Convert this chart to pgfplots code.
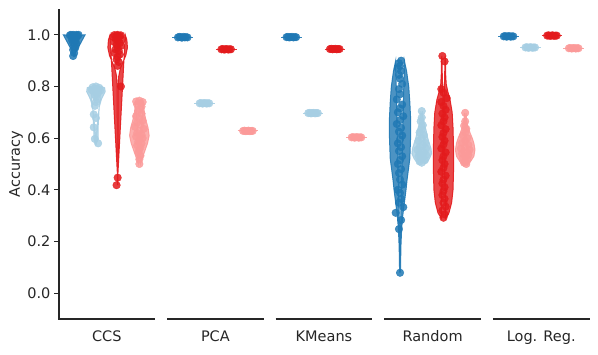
\documentclass[border=0pt]{standalone}
\usepackage{fontspec}
\setmainfont{DejaVu Sans}
\usepackage{pgfplots}
\pgfplotsset{compat=1.18}
\usepgfplotslibrary{fillbetween}

\definecolor{cdb}{HTML}{1F78B4}
\definecolor{clb}{HTML}{A6CEE3}
\definecolor{crd}{HTML}{E31A1C}
\definecolor{cpk}{HTML}{FB9A99}
\definecolor{txt}{HTML}{262626}

% violin outline: #1 centre, #2 colour, #3 path name, #4 rows "y w" (half width)
\newcommand{\violin}[4]{%
  \addplot[draw=none, name path=#3r] table[x expr=#1+\thisrow{w}, y=y, row sep=\\] {y w\\ #4};
  \addplot[draw=none, name path=#3l] table[x expr=#1-\thisrow{w}, y=y, row sep=\\] {y w\\ #4};
  \addplot[fill=#2, draw=#2, fill opacity=0.8, draw opacity=0.9, line width=1pt] fill between[of=#3r and #3l];
}
% strip points: #1 centre, #2 colour, #3 rows "j y"
\newcommand{\strip}[3]{%
  \addplot[only marks, mark=*, mark size=3.8pt, color=#2, opacity=0.85]
    table[x expr=#1+\thisrow{j}, y=y, row sep=\\] {j y\\ #3};
}
% near-constant group: the violin collapses to a line
\newcommand{\flatviolin}[3]{%
  \addplot[#2, line width=1pt, opacity=0.9] coordinates {(#1-0.095,#3) (#1+0.095,#3)};
}

\begin{document}
\begin{tikzpicture}
\begin{axis}[name=ax, scale only axis, width=530pt, height=310pt,
  xmin=-0.44, xmax=4.44, ymin=-0.1, ymax=1.1,
  axis lines=left, axis line style={-, draw=txt, line width=1.1pt},
  x axis line style={draw=none},
  xtick={0,1,2,3,4}, xticklabels={CCS,PCA,KMeans,Random,Log. Reg.},
  ytick={0,0.2,0.4,0.6,0.8,1.0},
  yticklabel style={/pgf/number format/.cd, fixed, fixed zerofill, precision=1},
  /pgf/number format/assume math mode=true,
  tick label style={font=\fontsize{14.5}{17}\selectfont, text=txt},
  xticklabel style={yshift=-3pt},
  label style={font=\fontsize{14.5}{17}\selectfont, text=txt},
  ylabel={Accuracy},
  ylabel style={at={(axis description cs:-0.081,0.5)}, anchor=center},
  xtick style={draw=none}, ytick style={draw=txt, line width=1.1pt},
  major tick length=5pt, tick align=outside, clip=false]

% ---- violins ----
\violin{-0.3}{cdb}{va}{0.918 0.004\\ 0.93 0.01\\ 0.95 0.018\\ 0.97 0.025\\ 0.99 0.035\\ 0.998 0.045\\ 1.0 0.10\\}
\violin{-0.1}{clb}{vb}{0.58 0.005\\ 0.60 0.02\\ 0.64 0.02\\ 0.68 0.025\\ 0.72 0.03\\ 0.75 0.05\\ 0.78 0.085\\ 0.795 0.08\\ 0.80 0.05\\}
\violin{0.1}{crd}{vc}{0.418 0.003\\ 0.80 0.004\\ 0.84 0.01\\ 0.87 0.025\\ 0.89 0.045\\ 0.92 0.075\\ 0.95 0.09\\ 0.98 0.085\\ 1.0 0.07\\}
\violin{0.3}{cpk}{vd}{0.50 0.01\\ 0.52 0.025\\ 0.55 0.05\\ 0.58 0.075\\ 0.61 0.09\\ 0.64 0.08\\ 0.67 0.06\\ 0.70 0.045\\ 0.72 0.04\\ 0.745 0.035\\}

\violin{2.7}{cdb}{ve}{0.08 0.004\\ 0.18 0.008\\ 0.25 0.015\\ 0.30 0.025\\ 0.35 0.04\\ 0.40 0.055\\ 0.44 0.065\\ 0.52 0.09\\ 0.60 0.097\\ 0.68 0.097\\ 0.74 0.09\\ 0.80 0.08\\ 0.86 0.06\\ 0.90 0.04\\}
\violin{2.9}{clb}{vf}{0.50 0.03\\ 0.52 0.07\\ 0.54 0.09\\ 0.56 0.085\\ 0.58 0.07\\ 0.60 0.055\\ 0.63 0.04\\ 0.66 0.02\\ 0.68 0.012\\ 0.705 0.008\\}
\violin{3.1}{crd}{vg}{0.29 0.02\\ 0.31 0.05\\ 0.35 0.075\\ 0.40 0.088\\ 0.48 0.093\\ 0.56 0.093\\ 0.64 0.088\\ 0.70 0.08\\ 0.75 0.06\\ 0.78 0.04\\ 0.81 0.025\\ 0.85 0.02\\ 0.89 0.02\\ 0.918 0.015\\}
\violin{3.3}{cpk}{vh}{0.495 0.02\\ 0.51 0.05\\ 0.53 0.08\\ 0.555 0.09\\ 0.58 0.08\\ 0.60 0.065\\ 0.62 0.045\\ 0.645 0.025\\ 0.67 0.012\\ 0.698 0.008\\}

\flatviolin{0.7}{cdb}{0.991}
\flatviolin{0.9}{clb}{0.735}
\flatviolin{1.1}{crd}{0.944}
\flatviolin{1.3}{cpk}{0.628}
\flatviolin{1.7}{cdb}{0.991}
\flatviolin{1.9}{clb}{0.697}
\flatviolin{2.1}{crd}{0.945}
\flatviolin{2.3}{cpk}{0.603}
\flatviolin{3.7}{cdb}{0.994}
\flatviolin{3.9}{clb}{0.951}
\flatviolin{4.1}{crd}{0.997}
\flatviolin{4.3}{cpk}{0.948}

% ---- points ----
\strip{-0.3}{cdb}{-0.03 1.000\\ -0.01 1.000\\ 0.02 1.000\\ 0.04 1.000\\ -0.04 0.998\\ 0.00 0.997\\ 0.03 0.996\\ -0.02 0.995\\ 0.01 0.993\\ -0.01 0.990\\ 0.02 0.988\\ 0.00 0.984\\ -0.02 0.980\\ 0.01 0.976\\ -0.01 0.970\\ 0.02 0.966\\ 0.00 0.958\\ 0.01 0.950\\ -0.01 0.942\\ 0.00 0.930\\ -0.01 0.918\\}
\strip{-0.1}{clb}{0.00 0.800\\ -0.03 0.797\\ 0.03 0.795\\ -0.01 0.792\\ 0.02 0.789\\ -0.04 0.786\\ 0.04 0.784\\ 0.00 0.782\\ -0.02 0.779\\ 0.02 0.776\\ 0.01 0.772\\ -0.01 0.768\\ 0.00 0.760\\ 0.01 0.750\\ 0.00 0.740\\ -0.01 0.725\\ -0.02 0.692\\ 0.00 0.678\\ -0.02 0.642\\ -0.01 0.597\\ 0.02 0.580\\}
\strip{0.1}{crd}{0.00 1.000\\ -0.03 0.999\\ 0.03 0.998\\ -0.01 0.997\\ 0.02 0.995\\ -0.04 0.992\\ 0.01 0.990\\ -0.02 0.985\\ 0.04 0.982\\ 0.00 0.978\\ -0.03 0.972\\ 0.02 0.968\\ -0.01 0.962\\ 0.03 0.957\\ 0.00 0.950\\ -0.02 0.944\\ 0.01 0.938\\ -0.03 0.930\\ 0.02 0.924\\ 0.00 0.915\\ -0.01 0.905\\ 0.01 0.895\\ 0.00 0.880\\ 0.03 0.800\\ 0.00 0.447\\ -0.01 0.418\\}
\strip{0.3}{cpk}{0.00 0.745\\ -0.03 0.742\\ 0.03 0.740\\ 0.01 0.735\\ -0.02 0.730\\ 0.02 0.722\\ 0.00 0.712\\ -0.01 0.703\\ 0.02 0.695\\ -0.03 0.685\\ 0.00 0.676\\ 0.03 0.668\\ -0.02 0.660\\ 0.01 0.652\\ -0.04 0.644\\ 0.04 0.636\\ 0.00 0.628\\ -0.02 0.620\\ 0.02 0.613\\ -0.03 0.606\\ 0.03 0.600\\ 0.00 0.594\\ -0.01 0.587\\ 0.02 0.580\\ -0.02 0.572\\ 0.01 0.565\\ 0.00 0.556\\ -0.01 0.545\\ 0.01 0.532\\ 0.00 0.518\\ 0.00 0.500\\}

\strip{0.7}{cdb}{-0.045 0.990\\ -0.032 0.992\\ -0.020 0.991\\ -0.008 0.989\\ 0.005 0.992\\ 0.018 0.990\\ 0.030 0.991\\ 0.043 0.990\\}
\strip{0.9}{clb}{-0.045 0.735\\ -0.032 0.736\\ -0.020 0.734\\ -0.008 0.735\\ 0.005 0.736\\ 0.018 0.734\\ 0.030 0.735\\ 0.043 0.735\\}
\strip{1.1}{crd}{-0.045 0.944\\ -0.032 0.945\\ -0.020 0.943\\ -0.008 0.944\\ 0.005 0.945\\ 0.018 0.943\\ 0.030 0.944\\ 0.043 0.944\\}
\strip{1.3}{cpk}{-0.045 0.628\\ -0.032 0.629\\ -0.020 0.627\\ -0.008 0.628\\ 0.005 0.629\\ 0.018 0.627\\ 0.030 0.628\\ 0.043 0.628\\}
\strip{1.7}{cdb}{-0.045 0.991\\ -0.032 0.992\\ -0.020 0.990\\ -0.008 0.991\\ 0.005 0.992\\ 0.018 0.990\\ 0.030 0.991\\ 0.043 0.991\\}
\strip{1.9}{clb}{-0.045 0.697\\ -0.032 0.698\\ -0.020 0.696\\ -0.008 0.697\\ 0.005 0.698\\ 0.018 0.696\\ 0.030 0.697\\ 0.043 0.697\\}
\strip{2.1}{crd}{-0.045 0.945\\ -0.032 0.946\\ -0.020 0.944\\ -0.008 0.945\\ 0.005 0.946\\ 0.018 0.944\\ 0.030 0.945\\ 0.043 0.945\\}
\strip{2.3}{cpk}{-0.045 0.603\\ -0.032 0.604\\ -0.020 0.602\\ -0.008 0.603\\ 0.005 0.604\\ 0.018 0.602\\ 0.030 0.603\\ 0.043 0.603\\}
\strip{3.7}{cdb}{-0.045 0.994\\ -0.032 0.995\\ -0.020 0.993\\ -0.008 0.994\\ 0.005 0.995\\ 0.018 0.993\\ 0.030 0.994\\ 0.043 0.994\\}
\strip{3.9}{clb}{-0.045 0.951\\ -0.032 0.952\\ -0.020 0.950\\ -0.008 0.951\\ 0.005 0.952\\ 0.018 0.950\\ 0.030 0.951\\ 0.043 0.951\\}
\strip{4.1}{crd}{-0.045 0.997\\ -0.032 0.998\\ -0.020 0.996\\ -0.008 0.997\\ 0.005 0.998\\ 0.018 0.996\\ 0.030 0.997\\ 0.043 0.997\\}
\strip{4.3}{cpk}{-0.045 0.948\\ -0.032 0.949\\ -0.020 0.947\\ -0.008 0.948\\ 0.005 0.949\\ 0.018 0.947\\ 0.030 0.948\\ 0.043 0.948\\}

\strip{2.7}{cdb}{0.01 0.900\\ -0.01 0.890\\ 0.00 0.880\\ -0.02 0.870\\ 0.01 0.860\\ -0.01 0.845\\ 0.00 0.830\\ 0.02 0.810\\ -0.01 0.790\\ 0.00 0.770\\ -0.03 0.750\\ 0.02 0.730\\ 0.00 0.715\\ -0.02 0.700\\ 0.03 0.685\\ 0.00 0.670\\ -0.03 0.655\\ 0.01 0.640\\ -0.01 0.625\\ 0.02 0.610\\ 0.00 0.595\\ -0.02 0.580\\ 0.01 0.565\\ -0.01 0.550\\ 0.02 0.530\\ 0.00 0.515\\ -0.02 0.500\\ 0.01 0.480\\ -0.01 0.465\\ 0.00 0.440\\ 0.02 0.420\\ -0.02 0.400\\ 0.00 0.388\\ 0.01 0.365\\ -0.01 0.350\\ 0.03 0.333\\ -0.04 0.311\\ 0.01 0.283\\ -0.01 0.248\\ 0.00 0.079\\}
\strip{2.9}{clb}{0.00 0.705\\ 0.00 0.680\\ -0.01 0.665\\ 0.01 0.650\\ 0.00 0.635\\ -0.02 0.622\\ 0.02 0.612\\ 0.00 0.600\\ -0.03 0.590\\ 0.03 0.582\\ 0.01 0.574\\ -0.02 0.566\\ 0.04 0.560\\ -0.04 0.555\\ 0.00 0.550\\ 0.02 0.545\\ -0.02 0.540\\ 0.04 0.535\\ -0.03 0.530\\ 0.01 0.526\\ -0.01 0.520\\ 0.03 0.515\\ -0.02 0.510\\ 0.00 0.505\\}
\strip{3.1}{crd}{-0.01 0.918\\ 0.01 0.897\\ -0.02 0.790\\ 0.00 0.776\\ 0.03 0.755\\ -0.02 0.740\\ 0.00 0.725\\ 0.02 0.710\\ -0.01 0.695\\ 0.01 0.680\\ 0.00 0.665\\ -0.02 0.650\\ 0.02 0.635\\ 0.00 0.620\\ -0.01 0.605\\ 0.01 0.590\\ 0.00 0.575\\ -0.02 0.560\\ 0.02 0.545\\ 0.00 0.530\\ -0.01 0.515\\ 0.01 0.500\\ 0.00 0.485\\ -0.02 0.470\\ 0.02 0.455\\ 0.00 0.440\\ -0.01 0.425\\ 0.01 0.410\\ 0.00 0.395\\ -0.01 0.380\\ 0.01 0.365\\ 0.00 0.350\\ 0.02 0.335\\ -0.01 0.320\\ 0.01 0.305\\ 0.00 0.292\\}
\strip{3.3}{cpk}{0.00 0.698\\ 0.00 0.665\\ -0.01 0.648\\ 0.01 0.636\\ 0.00 0.622\\ -0.02 0.610\\ 0.02 0.600\\ 0.00 0.590\\ -0.03 0.582\\ 0.03 0.574\\ 0.00 0.566\\ -0.04 0.560\\ 0.04 0.555\\ -0.01 0.550\\ 0.02 0.545\\ -0.03 0.540\\ 0.03 0.535\\ 0.00 0.530\\ -0.02 0.524\\ 0.02 0.518\\ 0.00 0.512\\ -0.01 0.505\\ 0.01 0.500\\}

% ---- broken bottom spine ----
\addplot[txt, line width=1.1pt] coordinates {(-0.445,-0.1) (0.445,-0.1)};
\addplot[txt, line width=1.1pt] coordinates {(0.555,-0.1) (1.445,-0.1)};
\addplot[txt, line width=1.1pt] coordinates {(1.555,-0.1) (2.445,-0.1)};
\addplot[txt, line width=1.1pt] coordinates {(2.555,-0.1) (3.445,-0.1)};
\addplot[txt, line width=1.1pt] coordinates {(3.555,-0.1) (4.445,-0.1)};
\end{axis}
\pgfresetboundingbox
\path[use as bounding box] ([xshift=-59pt,yshift=-36pt]ax.south west) rectangle ([xshift=9pt,yshift=9pt]ax.north east);
\end{tikzpicture}
\end{document}
